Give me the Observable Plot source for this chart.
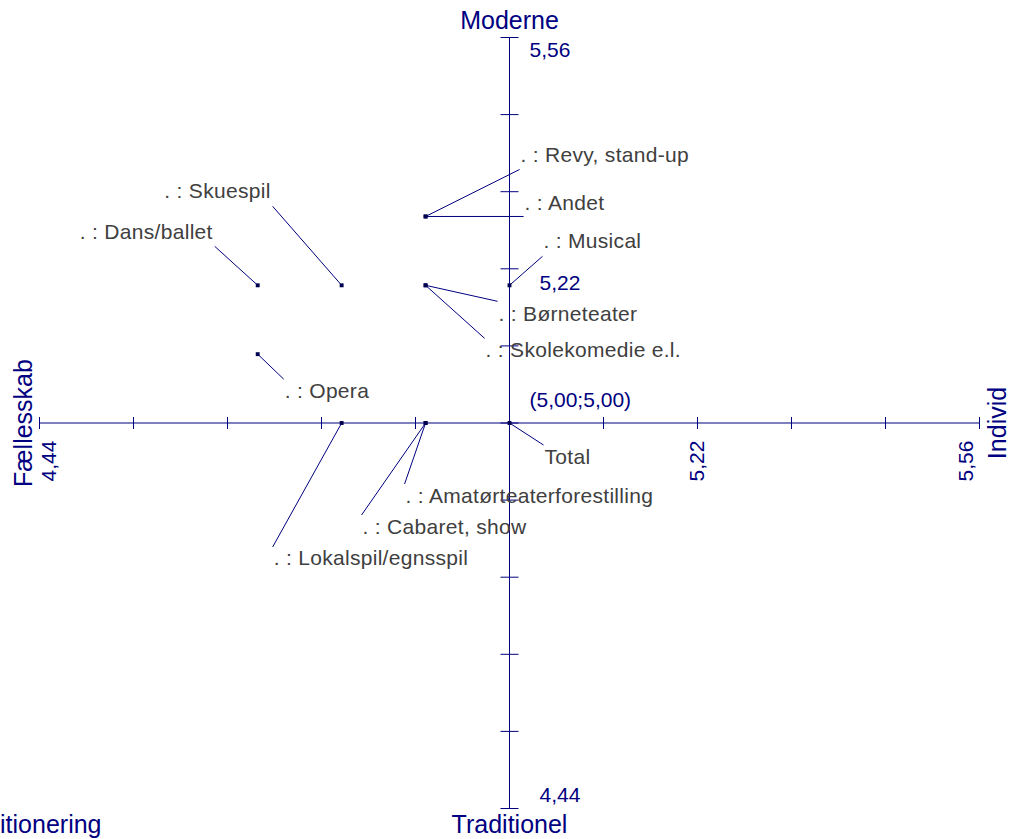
<!DOCTYPE html>
<html>
<head>
<meta charset="utf-8">
<script src="https://cdn.jsdelivr.net/npm/d3@7"></script>
<script src="https://cdn.jsdelivr.net/npm/@observablehq/plot@0.6"></script>
<style>
  html, body { margin: 0; padding: 0; background: #fff; }
  #chart svg { display: block; }
  .lbl text { letter-spacing: 0.3px; }
</style>
</head>
<body>
<div id="chart"></div>
<script>
// ---- Data ----
const categories = ["Revy, stand-up", "Andet", "Musical", "Børneteater", "Skolekomedie e.l.",
  "Skuespil", "Dans/ballet", "Opera", "Lokalspil/egnsspil", "Cabaret, show",
  "Amatørteaterforestilling", "Total"];
const labels = [". : Revy, stand-up", ". : Andet", ". : Musical", ". : Børneteater",
  ". : Skolekomedie e.l.", ". : Skuespil", ". : Dans/ballet", ". : Opera",
  ". : Lokalspil/egnsspil", ". : Cabaret, show", ". : Amatørteaterforestilling", "Total"];
// Individ (x) and Moderne (y) scores
const individ = [4.90, 4.90, 5.00, 4.90, 4.90, 4.80, 4.70, 4.70, 4.80, 4.90, 4.90, 5.00];
const moderne = [5.30, 5.30, 5.20, 5.20, 5.20, 5.20, 5.20, 5.10, 5.00, 5.00, 5.00, 5.00];

const axisTicks = [4.44, 4.552, 4.664, 4.776, 4.888, 5.00, 5.112, 5.224, 5.336, 5.448, 5.56];
const xTickLabelValues = [4.44, 5.224, 5.56];
const xTickLabels = ["4,44", "5,22", "5,56"];
const yTickLabelValues = [5.56, 5.224, 4.44];
const yTickLabels = ["5,56", "5,22", "4,44"];
const originLabel = "(5,00;5,00)";
const axisTitles = { top: "Moderne", bottom: "Traditionel", left: "Fællesskab", right: "Individ" };
const footer = "Positionering";

// ---- Layout (pixel offsets for leader lines / labels) ----
const leaderDx = [94, 98, 33, 72, 59, -69, -43, 26, -69, -64, -21, 34];
const leaderDy = [-47, 0, -29, 16, 53, -79, -39, 25, 124, 92, 61, 22];
const anchors  = ["start","start","start","start","start","end","end","start","start","start","start","start"];
const textDy   = [-14, -13, -15, 13, 12, -15, -14, 12, 11, 12, 12, 12];
const xTickDx = [10, 0, -13];
const yTickDx = [20, 30, 30];
const yTickDy = [13, 14, -13];

const NAVY = "#000080";
const GRAY = "#404040";
const FONT = "Liberation Sans, Arial, sans-serif";

const xRange = [39, 979], yRange = [808, 37];
const kx = (5.56 - 4.44) / (xRange[1] - xRange[0]);
const ky = (5.56 - 4.44) / (yRange[0] - yRange[1]);

const rows = categories.map((c, i) => ({
  name: c, label: labels[i], x: individ[i], y: moderne[i],
  ex: individ[i] + leaderDx[i] * kx, ey: moderne[i] - leaderDy[i] * ky,
  anchor: anchors[i], tdy: textDy[i]
}));

const tickLabelMarks = [];
yTickLabelValues.forEach((v, i) => {
  tickLabelMarks.push(Plot.text([yTickLabels[i]], { x: 5, y: v, text: d => d, textAnchor: "start",
    lineAnchor: "middle", dx: yTickDx[i], dy: yTickDy[i], fill: NAVY, fontSize: 21 }));
});
xTickLabelValues.forEach((v, i) => {
  tickLabelMarks.push(Plot.text([xTickLabels[i]], { x: v, y: 5, text: d => d, rotate: -90,
    textAnchor: "middle", lineAnchor: "middle", dx: xTickDx[i], dy: 38, fill: NAVY, fontSize: 21 }));
});

const chart = Plot.plot({
  width: 1011, height: 839,
  marginTop: 0, marginRight: 0, marginBottom: 0, marginLeft: 0,
  style: { fontFamily: FONT, background: "#fff", overflow: "visible" },
  x: { domain: [4.44, 5.56], range: xRange, axis: null },
  y: { domain: [4.44, 5.56], range: yRange, axis: null },
  marks: [
    // axes
    Plot.ruleY([5], { x1: 4.44, x2: 5.56, stroke: NAVY, strokeWidth: 1 }),
    Plot.ruleX([5], { y1: 4.44, y2: 5.56, stroke: NAVY, strokeWidth: 1 }),
    Plot.link(axisTicks, { x1: d => d, x2: d => d, y1: 5 - 6 * ky, y2: 5 + 6 * ky, stroke: NAVY }),
    Plot.link(axisTicks, { y1: d => d, y2: d => d, x1: 5 - 9 * kx, x2: 5 + 9 * kx, stroke: NAVY }),
    // tick labels
    ...tickLabelMarks,
    // origin
    Plot.text([originLabel], { x: 5, y: 5, text: d => d, textAnchor: "start", lineAnchor: "middle",
      dx: 20, dy: -23, fill: NAVY, fontSize: 21 }),
    // axis titles
    Plot.text([axisTitles.top], { x: 5, frameAnchor: "top", lineAnchor: "middle", dy: 20, text: d => d, fill: NAVY, fontSize: 25 }),
    Plot.text([axisTitles.bottom], { x: 5, frameAnchor: "bottom", lineAnchor: "middle", dy: -15, text: d => d, fill: NAVY, fontSize: 25 }),
    Plot.text([axisTitles.left], { x: 4.44, y: 5, dx: -16, rotate: -90, lineAnchor: "middle", text: d => d, fill: NAVY, fontSize: 25 }),
    Plot.text([axisTitles.right], { x: 5.56, y: 5, dx: 18, rotate: -90, lineAnchor: "middle", text: d => d, fill: NAVY, fontSize: 25 }),
    Plot.text([footer], { frameAnchor: "bottom-left", lineAnchor: "middle", dx: 101, dy: -15, textAnchor: "end", text: d => d, fill: NAVY, fontSize: 25 }),
    // leader lines
    Plot.link(rows, { x1: "x", y1: "y", x2: "ex", y2: "ey", stroke: NAVY, strokeWidth: 1 }),
    // points
    Plot.dot(rows, { x: "x", y: "y", symbol: "square", r: 2.2, fill: "#000050", stroke: "none" }),
    // category labels
    Plot.text(rows.filter(d => d.anchor === "start"), { x: "ex", y: d => d.ey - d.tdy * ky, text: "label",
      textAnchor: "start", lineAnchor: "middle", dx: 1, fill: GRAY, fontSize: 21, className: "lbl" }),
    Plot.text(rows.filter(d => d.anchor === "end"), { x: "ex", y: d => d.ey - d.tdy * ky, text: "label",
      textAnchor: "end", lineAnchor: "middle", dx: -2, fill: GRAY, fontSize: 21, className: "lbl" })
  ]
});
document.getElementById("chart").appendChild(chart);
</script>
</body>
</html>
